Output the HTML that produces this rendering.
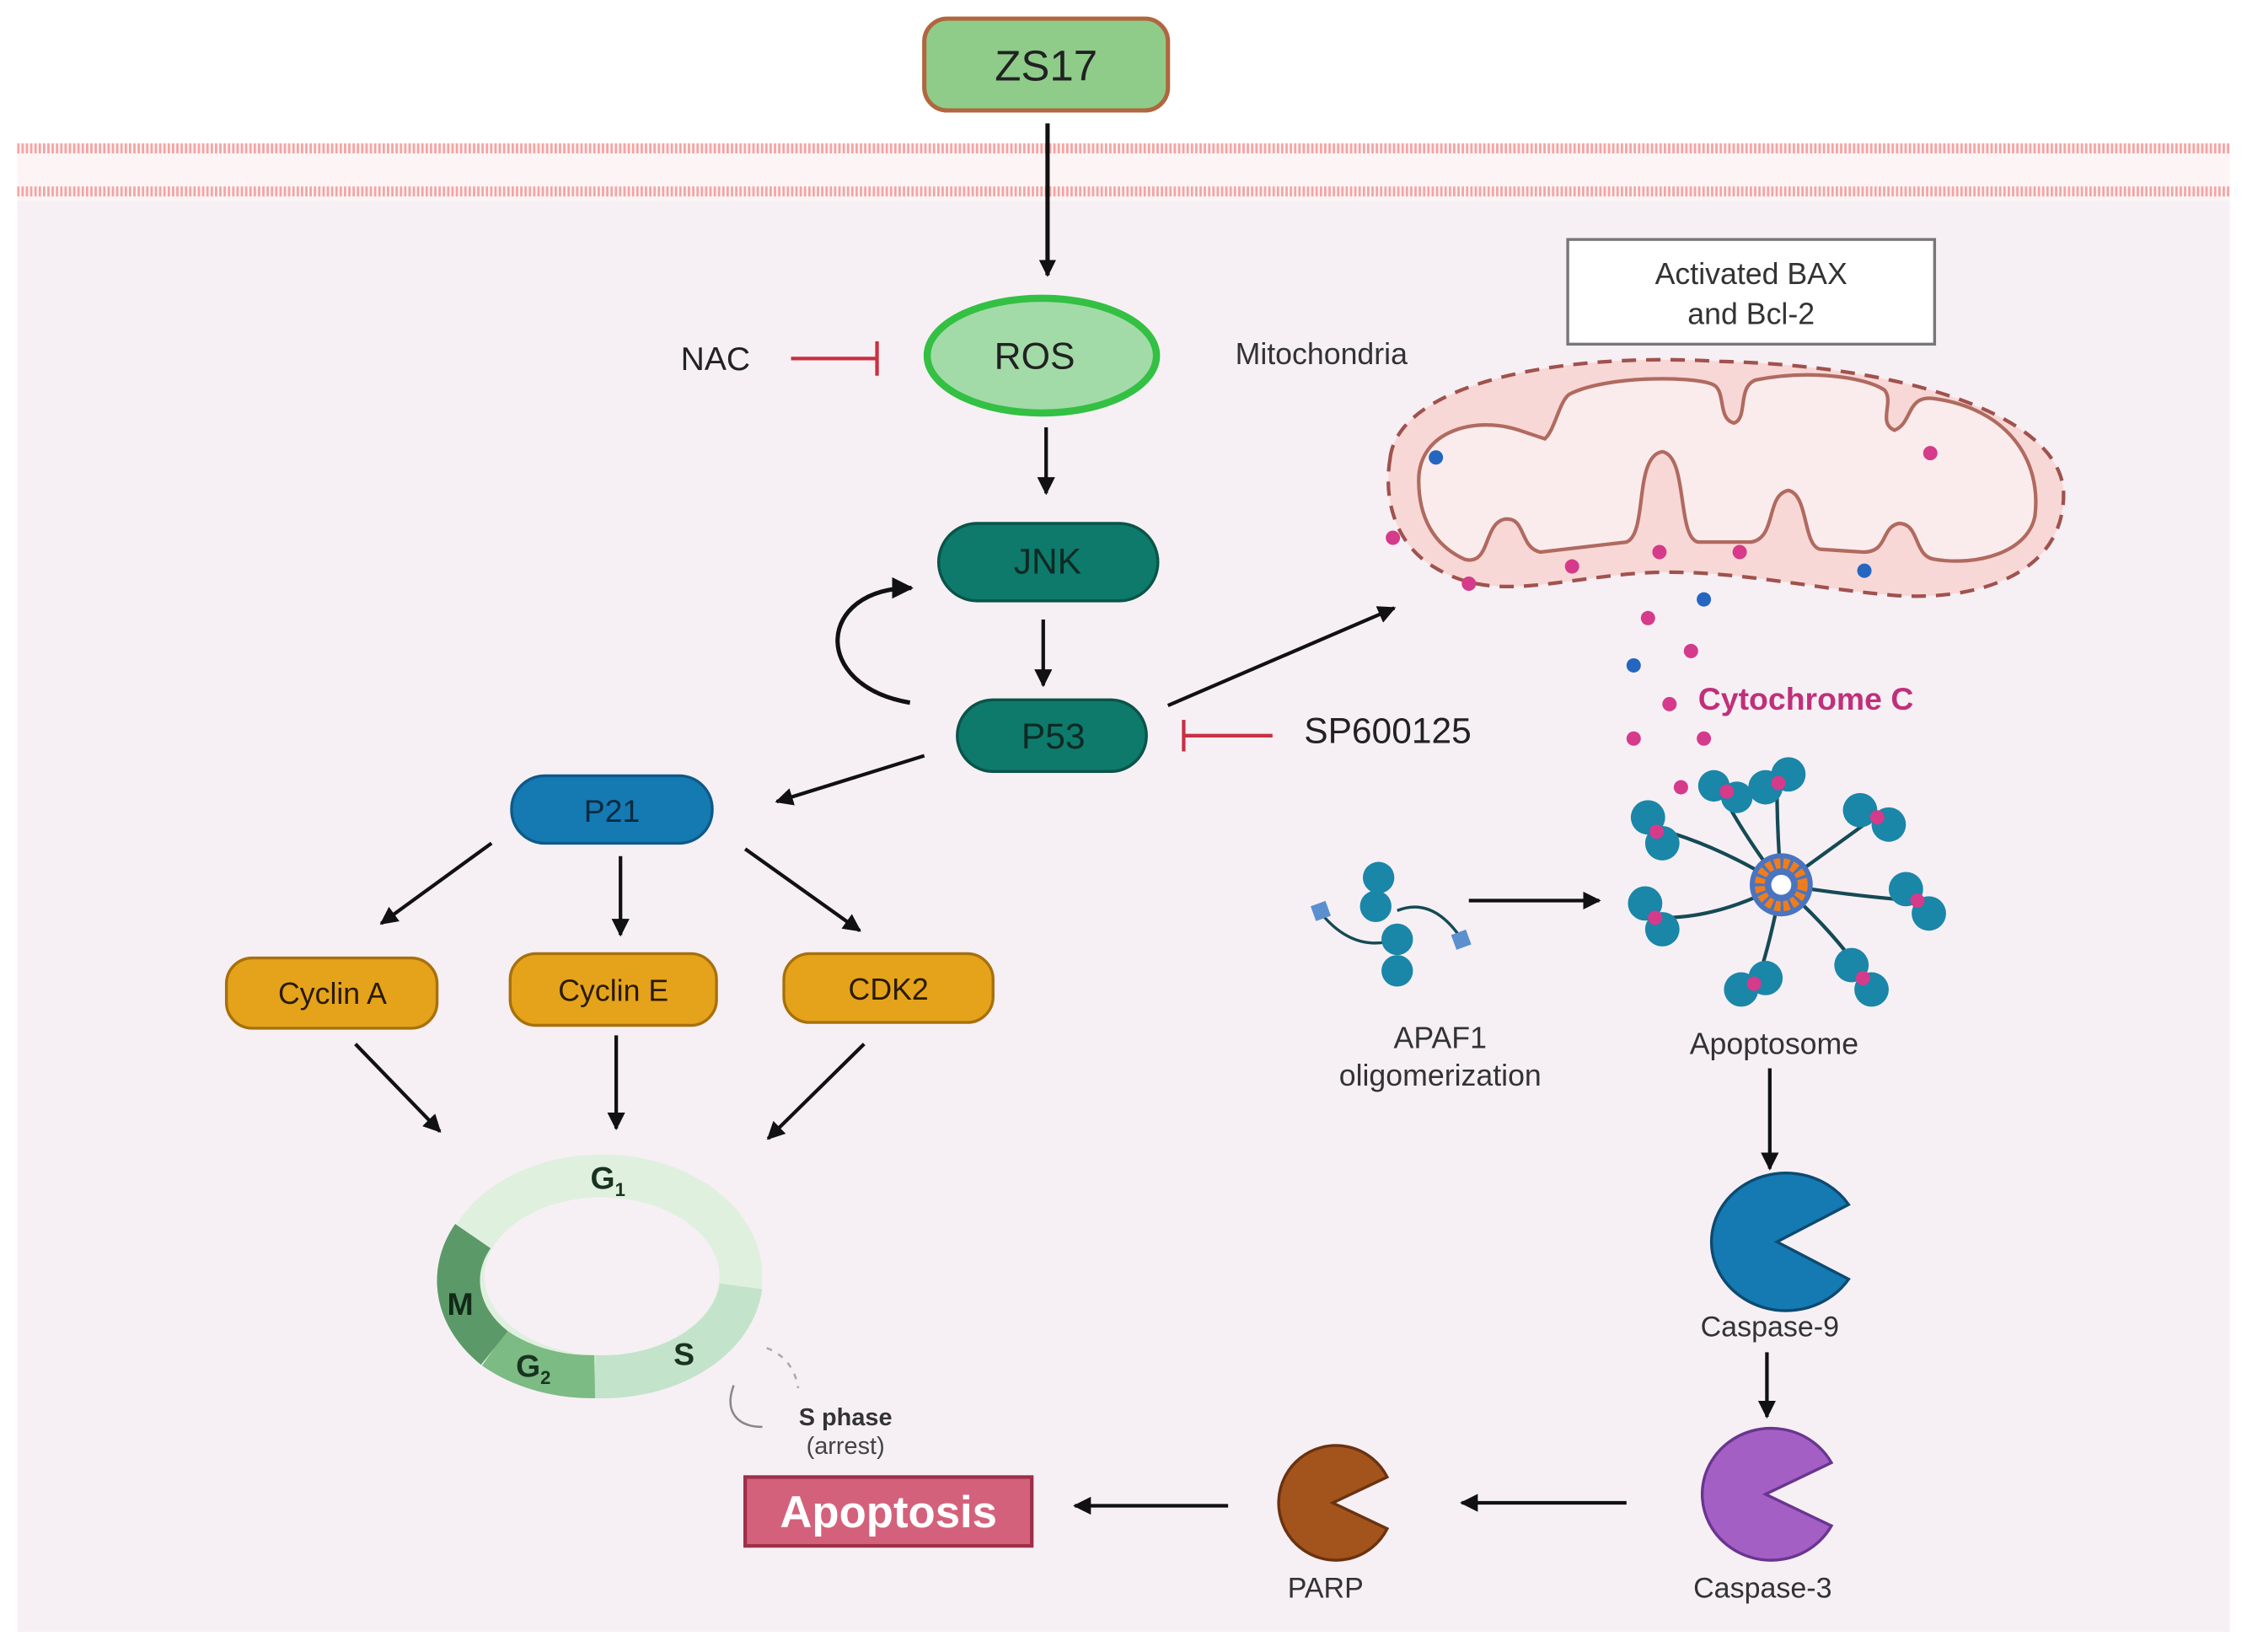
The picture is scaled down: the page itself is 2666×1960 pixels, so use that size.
<!DOCTYPE html>
<html><head><style>html,body{margin:0;padding:0;background:#fff}svg{display:block}</style></head>
<body>
<svg width="2666" height="1960" viewBox="0 0 1568 1152" preserveAspectRatio="none" xmlns="http://www.w3.org/2000/svg" font-family="Liberation Sans, sans-serif">
<defs>
<marker id="ah" viewBox="0 0 10 10" refX="9" refY="5" markerWidth="5" markerHeight="5" orient="auto"><path d="M0 0 L10 5 L0 10 z" fill="#111"/></marker>
<marker id="ahb" viewBox="0 0 10 10" refX="9" refY="5" markerWidth="4" markerHeight="4" orient="auto"><path d="M0 0 L10 5 L0 10 z" fill="#111"/></marker>
<pattern id="dots" width="3" height="6" patternUnits="userSpaceOnUse"><rect width="1.6" height="6" fill="#f4a3a3"/></pattern>
</defs>
<rect width="1568" height="1152" fill="#fff"/>
<rect x="12" y="100" width="1544" height="40" fill="#fdf5f5"/>
<rect x="12" y="100" width="1544" height="7" fill="url(#dots)"/>
<rect x="12" y="130" width="1544" height="7" fill="url(#dots)"/>
<rect x="12" y="140" width="1544" height="998" fill="#f6f0f5"/>

<!-- ZS17 -->
<rect x="645" y="13" width="170" height="64" rx="16" fill="#8fcc8a" stroke="#b0673f" stroke-width="3"/>
<text x="730" y="56" font-size="30" text-anchor="middle" fill="#222">ZS17</text>
<line x1="731" y1="86" x2="731" y2="192" stroke="#111" stroke-width="3" marker-end="url(#ahb)"/>

<!-- ROS -->
<ellipse cx="727" cy="248" rx="80" ry="40" fill="#a2dba8" stroke="#33c043" stroke-width="5"/>
<text x="722" y="257" font-size="26" text-anchor="middle" fill="#222">ROS</text>
<text x="475" y="258" font-size="23" fill="#222">NAC</text>
<line x1="552" y1="250" x2="612" y2="250" stroke="#c83040" stroke-width="2.5"/>
<line x1="612" y1="238" x2="612" y2="262" stroke="#c83040" stroke-width="2.5"/>
<text x="862" y="254" font-size="21" fill="#333">Mitochondria</text>
<line x1="730" y1="298" x2="730" y2="344" stroke="#111" stroke-width="2.5" marker-end="url(#ah)"/>

<!-- JNK -->
<rect x="655" y="365" width="153" height="54" rx="27" fill="#0e7a6b" stroke="#0a5448" stroke-width="2"/>
<text x="731" y="400" font-size="25" text-anchor="middle" fill="#0d2a25">JNK</text>
<line x1="728" y1="432" x2="728" y2="478" stroke="#111" stroke-width="2.5" marker-end="url(#ah)"/>
<path d="M635 490 C 565 478, 570 410, 636 410" fill="none" stroke="#111" stroke-width="3" marker-end="url(#ah)"/>

<!-- P53 -->
<rect x="668" y="488" width="132" height="50" rx="25" fill="#0e7a6b" stroke="#0a5448" stroke-width="2"/>
<text x="735" y="522" font-size="25" text-anchor="middle" fill="#0d2a25">P53</text>
<line x1="815" y1="492" x2="973" y2="424" stroke="#111" stroke-width="2.5" marker-end="url(#ah)"/>
<line x1="826" y1="513" x2="888" y2="513" stroke="#c83040" stroke-width="2.5"/>
<line x1="826" y1="502" x2="826" y2="524" stroke="#c83040" stroke-width="2.5"/>
<text x="910" y="518" font-size="25" fill="#222">SP600125</text>
<line x1="645" y1="527" x2="542" y2="559" stroke="#111" stroke-width="2.5" marker-end="url(#ah)"/>

<!-- P21 -->
<rect x="357" y="541" width="140" height="47" rx="23" fill="#1579b2" stroke="#0d5a88" stroke-width="2"/>
<text x="427" y="573" font-size="22" text-anchor="middle" fill="#0a2a40">P21</text>
<line x1="343" y1="588" x2="266" y2="644" stroke="#111" stroke-width="2.5" marker-end="url(#ah)"/>
<line x1="433" y1="597" x2="433" y2="652" stroke="#111" stroke-width="2.5" marker-end="url(#ah)"/>
<line x1="520" y1="592" x2="600" y2="649" stroke="#111" stroke-width="2.5" marker-end="url(#ah)"/>

<!-- Cyclins -->
<rect x="158" y="668" width="147" height="49" rx="18" fill="#e4a31b" stroke="#a8700c" stroke-width="2"/>
<text x="232" y="700" font-size="21" text-anchor="middle" fill="#2a1a00">Cyclin A</text>
<rect x="356" y="665" width="144" height="50" rx="18" fill="#e4a31b" stroke="#a8700c" stroke-width="2"/>
<text x="428" y="698" font-size="21" text-anchor="middle" fill="#2a1a00">Cyclin E</text>
<rect x="547" y="665" width="146" height="48" rx="18" fill="#e4a31b" stroke="#a8700c" stroke-width="2"/>
<text x="620" y="697" font-size="21" text-anchor="middle" fill="#2a1a00">CDK2</text>
<line x1="248" y1="728" x2="307" y2="789" stroke="#111" stroke-width="2.5" marker-end="url(#ah)"/>
<line x1="430" y1="722" x2="430" y2="787" stroke="#111" stroke-width="2.5" marker-end="url(#ah)"/>
<line x1="603" y1="728" x2="536" y2="794" stroke="#111" stroke-width="2.5" marker-end="url(#ah)"/>

<!-- Cell cycle -->
<g fill="none" stroke-width="30">
<ellipse cx="420" cy="890" rx="97" ry="70" stroke="#e0f0de"/>
<path d="M 517 897 A 97 70 0 0 1 415 960" stroke="#c3e3cb"/>
<path d="M 415 960 A 97 70 0 0 1 345 940" stroke="#7cbb84"/>
<path d="M 345 940 A 97 70 0 0 1 330 862" stroke="#5b9a68"/>
</g>
<text x="412" y="829" font-size="22" font-weight="bold" fill="#1a3320">G<tspan font-size="13" dy="5">1</tspan></text>
<text x="312" y="917" font-size="22" font-weight="bold" fill="#132a18">M</text>
<text x="360" y="960" font-size="22" font-weight="bold" fill="#1a3320">G<tspan font-size="13" dy="5">2</tspan></text>
<text x="470" y="952" font-size="22" font-weight="bold" fill="#1a3320">S</text>
<path d="M 512 966 C 505 985, 515 995, 532 995" fill="none" stroke="#888" stroke-width="1.5"/>
<path d="M 535 940 C 548 945, 555 955, 557 968" fill="none" stroke="#aaa" stroke-width="1.5" stroke-dasharray="4 5"/>
<text x="590" y="994" font-size="17" font-weight="bold" text-anchor="middle" fill="#333">S phase</text>
<text x="590" y="1014" font-size="17" text-anchor="middle" fill="#444">(arrest)</text>

<!-- Apoptosis -->
<rect x="520" y="1030" width="200" height="48" fill="#d4617b" stroke="#9e2f48" stroke-width="2.5"/>
<text x="620" y="1065" font-size="31" font-weight="bold" text-anchor="middle" fill="#fff">Apoptosis</text>
<line x1="857" y1="1050" x2="750" y2="1050" stroke="#111" stroke-width="2.5" marker-end="url(#ah)"/>
<path d="M930 1048 L 968 1030 A 40 40 0 1 0 968 1066 Z" fill="#a3531c" stroke="#6a3210" stroke-width="2"/>
<text x="925" y="1114" font-size="20" text-anchor="middle" fill="#333">PARP</text>
<line x1="1135" y1="1048" x2="1020" y2="1048" stroke="#111" stroke-width="2.5" marker-end="url(#ah)"/>
<path d="M1232 1042 L 1278 1020 A 48 46 0 1 0 1278 1064 Z" fill="#a45fc4" stroke="#6a3590" stroke-width="2"/>
<text x="1230" y="1114" font-size="20" text-anchor="middle" fill="#333">Caspase-3</text>
<line x1="1233" y1="943" x2="1233" y2="988" stroke="#111" stroke-width="2.5" marker-end="url(#ah)"/>
<path d="M1240 866 L 1290 840 A 52 48 0 1 0 1290 892 Z" fill="#1579b2" stroke="#0d4a70" stroke-width="2"/>
<text x="1235" y="932" font-size="20" text-anchor="middle" fill="#333">Caspase-9</text>
<line x1="1235" y1="745" x2="1235" y2="815" stroke="#111" stroke-width="2.5" marker-end="url(#ah)"/>

<!-- Apoptosome -->
<g stroke="#154a55" stroke-width="2.5" fill="none">
<path d="M1243 617 Q 1240 580 1240 548"/>
<path d="M1243 617 Q 1280 590 1305 572"/>
<path d="M1243 617 Q 1295 625 1335 628"/>
<path d="M1243 617 Q 1280 650 1300 680"/>
<path d="M1243 617 Q 1235 660 1225 688"/>
<path d="M1243 617 Q 1200 640 1160 640"/>
<path d="M1243 617 Q 1200 590 1157 578"/>
<path d="M1243 617 Q 1215 580 1200 550"/>
</g>
<g fill="#1a86a8">
<circle cx="1232" cy="549" r="12"/><circle cx="1248" cy="540" r="12"/>
<circle cx="1298" cy="565" r="12"/><circle cx="1318" cy="575" r="12"/>
<circle cx="1330" cy="620" r="12"/><circle cx="1346" cy="637" r="12"/>
<circle cx="1292" cy="673" r="12"/><circle cx="1306" cy="690" r="12"/>
<circle cx="1215" cy="690" r="12"/><circle cx="1232" cy="682" r="12"/>
<circle cx="1148" cy="630" r="12"/><circle cx="1160" cy="648" r="12"/>
<circle cx="1150" cy="570" r="12"/><circle cx="1160" cy="588" r="12"/>
<circle cx="1196" cy="548" r="11"/><circle cx="1212" cy="556" r="11"/>
</g>
<g fill="#d63a8a">
<circle cx="1241" cy="546" r="5"/><circle cx="1310" cy="570" r="5"/><circle cx="1338" cy="628" r="5"/><circle cx="1300" cy="682" r="5"/><circle cx="1224" cy="686" r="5"/><circle cx="1155" cy="640" r="5"/><circle cx="1156" cy="580" r="5"/><circle cx="1205" cy="552" r="5"/>
</g>
<circle cx="1243" cy="617" r="22" fill="#4a74c0"/>
<circle cx="1243" cy="617" r="15" fill="none" stroke="#f07d1a" stroke-width="7" stroke-dasharray="4 2"/>
<circle cx="1243" cy="617" r="7" fill="#fff"/>
<text x="1238" y="735" font-size="21" text-anchor="middle" fill="#333">Apoptosome</text>

<!-- APAF1 -->
<g stroke="#154a55" stroke-width="2" fill="none">
<path d="M922 637 Q 945 665 975 655"/><path d="M1020 655 Q 1000 625 975 635"/>
</g>
<g fill="#1a86a8">
<circle cx="962" cy="612" r="11"/><circle cx="960" cy="632" r="11"/>
<circle cx="975" cy="655" r="11"/><circle cx="975" cy="677" r="11"/>
</g>
<rect x="916" y="630" width="11" height="11" fill="#5b8fd0" transform="rotate(-20 921 635)"/>
<rect x="1014" y="650" width="11" height="11" fill="#5b8fd0" transform="rotate(-20 1019 655)"/>
<line x1="1025" y1="628" x2="1116" y2="628" stroke="#111" stroke-width="2.5" marker-end="url(#ah)"/>
<text x="1005" y="731" font-size="21" text-anchor="middle" fill="#333">APAF1</text>
<text x="1005" y="757" font-size="21" text-anchor="middle" fill="#333">oligomerization</text>

<!-- BAX box -->
<rect x="1094" y="167" width="256" height="73" fill="#fff" stroke="#777" stroke-width="2"/>
<text x="1222" y="198" font-size="21" text-anchor="middle" fill="#333">Activated BAX</text>
<text x="1222" y="226" font-size="21" text-anchor="middle" fill="#333">and Bcl-2</text>

<!-- Mitochondrion -->
<path d="M970 320 C 975 270, 1080 245, 1200 252 C 1330 255, 1440 290, 1440 345 C 1440 400, 1380 420, 1320 415 C 1260 410, 1200 395, 1140 400 C 1080 405, 1040 420, 1000 395 C 975 380, 965 350, 970 320 Z" fill="#f8d8d6" stroke="#a0524e" stroke-width="2.5" stroke-dasharray="10 7"/>
<path d="M990 335 C 990 300, 1030 290, 1060 300 L 1078 306 C 1085 300, 1088 280, 1095 275 C 1120 262, 1180 262, 1195 268 C 1205 272, 1198 292, 1210 295 C 1220 292, 1212 270, 1225 265 C 1260 258, 1300 262, 1315 272 C 1322 280, 1310 295, 1322 300 C 1335 295, 1330 275, 1350 278 C 1400 285, 1425 320, 1420 360 C 1415 385, 1380 395, 1350 390 C 1335 388, 1340 365, 1325 365 C 1312 368, 1318 385, 1300 385 L 1270 383 C 1258 380, 1262 345, 1248 342 C 1232 345, 1240 375, 1222 378 L 1185 378 C 1170 375, 1178 318, 1160 315 C 1140 318, 1150 372, 1135 378 L 1075 385 C 1060 382, 1065 360, 1050 362 C 1035 365, 1040 395, 1022 390 C 1000 380, 990 360, 990 335 Z" fill="#faecec" stroke="#b06a60" stroke-width="2.5"/>
<g fill="#d63a8a">
<circle cx="972" cy="375" r="5"/><circle cx="1025" cy="407" r="5"/><circle cx="1097" cy="395" r="5"/><circle cx="1158" cy="385" r="5"/><circle cx="1214" cy="385" r="5"/><circle cx="1347" cy="316" r="5"/>
<circle cx="1150" cy="431" r="5"/><circle cx="1180" cy="454" r="5"/><circle cx="1165" cy="491" r="5"/><circle cx="1140" cy="515" r="5"/><circle cx="1189" cy="515" r="5"/><circle cx="1173" cy="549" r="5"/>
</g>
<g fill="#2566c0">
<circle cx="1002" cy="319" r="5"/><circle cx="1301" cy="398" r="5"/><circle cx="1189" cy="418" r="5"/><circle cx="1140" cy="464" r="5"/>
</g>
<text x="1185" y="495" font-size="22" font-weight="bold" fill="#c0307a">Cytochrome C</text>
</svg>
</body></html>
